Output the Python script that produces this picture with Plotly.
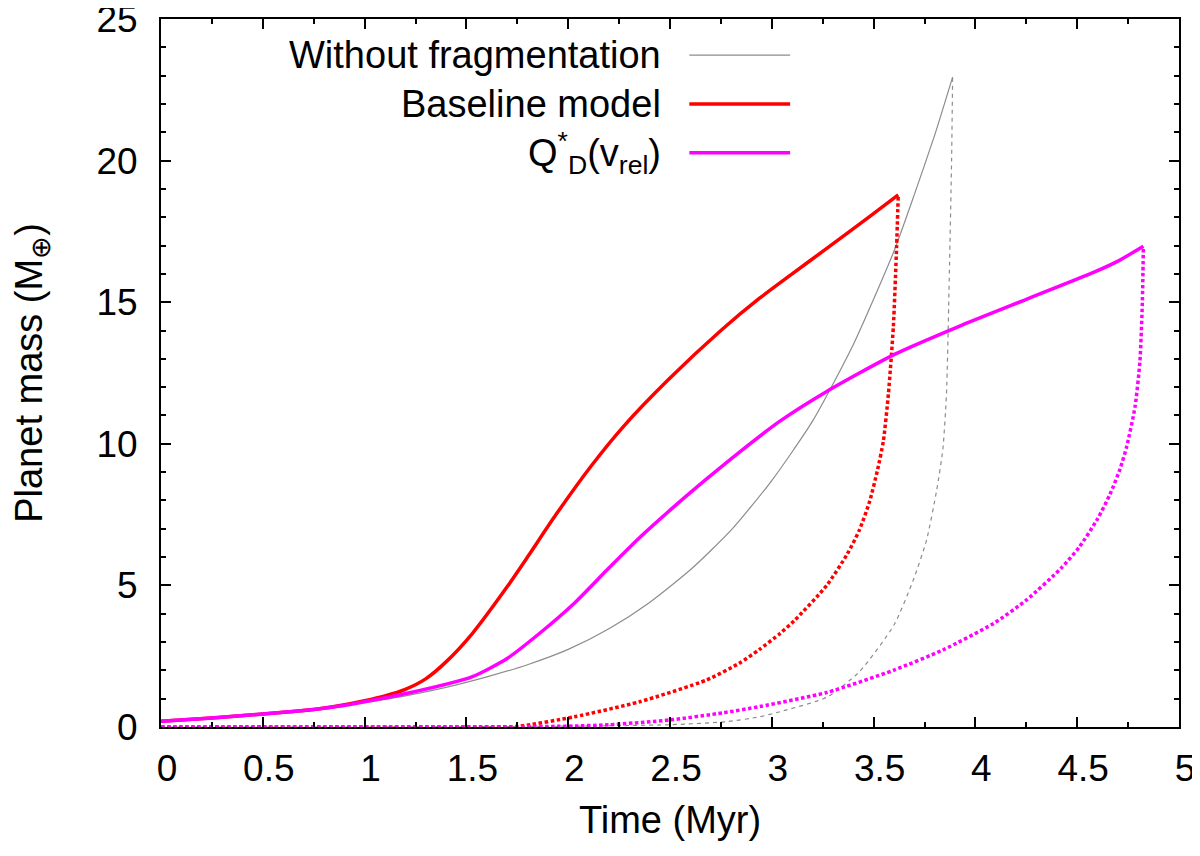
import plotly.graph_objects as go

# ---- data (Time in Myr, Planet mass in Earth masses) ----
nofrag_t = [0, 0.25, 0.5, 0.75, 1.0, 1.2, 1.4, 1.6, 1.8, 2.0, 2.2, 2.4, 2.6, 2.8, 3.0, 3.2, 3.4, 3.6, 3.7, 3.8, 3.888]
nofrag_m = [0.2, 0.32, 0.46, 0.63, 0.86, 1.10, 1.40, 1.77, 2.20, 2.74, 3.47, 4.40, 5.55, 6.95, 8.70, 10.8, 13.5, 16.8, 18.8, 20.9, 22.95]

nofrag_core_t = [0, 0.5, 1.0, 1.5, 2.0, 2.5, 2.78, 2.94, 3.04, 3.27, 3.43, 3.6, 3.695, 3.76, 3.81, 3.84, 3.858, 3.87, 3.883, 3.888]
nofrag_core_m = [0, 0, 0, 0.01, 0.03, 0.08, 0.19, 0.36, 0.54, 1.05, 1.95, 3.6, 5.19, 6.6, 8.37, 9.8, 11.78, 15.3, 20.0, 22.95]

base_t = [0, 0.25, 0.5, 0.75, 0.88, 1.0, 1.1, 1.2, 1.3, 1.4, 1.53, 1.70, 1.80, 1.94, 2.11, 2.27, 2.49, 2.75, 2.94, 3.1, 3.27, 3.48, 3.621]
base_m = [0.2, 0.32, 0.46, 0.62, 0.76, 0.93, 1.10, 1.33, 1.70, 2.30, 3.31, 4.95, 6.0, 7.5, 9.19, 10.6, 12.25, 14.0, 15.14, 16.0, 16.9, 18.02, 18.79]

base_core_t = [0, 0.5, 1.0, 1.5, 1.75, 2.03, 2.35, 2.68, 2.84, 2.94, 3.04, 3.11, 3.27, 3.37, 3.43, 3.48, 3.52, 3.548, 3.573, 3.597, 3.613, 3.621]
base_core_m = [0, 0, 0, 0, 0.02, 0.36, 0.89, 1.66, 2.25, 2.74, 3.3, 3.75, 5.0, 6.1, 6.95, 7.95, 9.1, 10.1, 11.78, 14.13, 16.96, 18.79]

qd_t = [0, 0.25, 0.5, 0.75, 0.88, 1.21, 1.53, 1.70, 1.86, 2.03, 2.19, 2.35, 2.52, 2.68, 2.84, 3.04, 3.27, 3.6, 3.92, 4.25, 4.58, 4.7, 4.825]
qd_m = [0.2, 0.32, 0.46, 0.62, 0.74, 1.19, 1.78, 2.42, 3.31, 4.37, 5.54, 6.68, 7.78, 8.76, 9.7, 10.8, 11.85, 13.15, 14.15, 15.1, 16.05, 16.45, 16.98]

qd_core_t = [0, 0.5, 1.0, 1.5, 2.0, 2.2, 2.5, 2.76, 2.94, 3.27, 3.6, 3.84, 4.09, 4.25, 4.42, 4.51, 4.6, 4.66, 4.71, 4.743, 4.784, 4.808, 4.82, 4.825]
qd_core_m = [0, 0, 0, 0, 0.03, 0.08, 0.25, 0.5, 0.72, 1.22, 2.01, 2.72, 3.66, 4.48, 5.6, 6.35, 7.35, 8.2, 9.1, 9.9, 11.3, 12.9, 15.0, 16.98]

legend_labels = ["Without fragmentation", "Baseline model", "Q<sup>*</sup><sub>D</sub>(v<sub>rel</sub>)"]
x_ticks = [0, 0.5, 1, 1.5, 2, 2.5, 3, 3.5, 4, 4.5, 5]
x_tick_text = ["0", "0.5", "1", "1.5", "2", "2.5", "3", "3.5", "4", "4.5", "5"]
y_ticks = [0, 5, 10, 15, 20, 25]

GRAY = "#8c8c8c"
RED = "#ff0000"
MAG = "#ff00ff"
FONT = "Liberation Sans"

fig = go.Figure()

def add(t, m, color, width, dash, smooth=0.6):
    fig.add_trace(go.Scatter(x=t, y=m, mode="lines", showlegend=False, hoverinfo="skip",
                             line=dict(color=color, width=width, dash=dash,
                                       shape="spline", smoothing=smooth)))

add(nofrag_core_t, nofrag_core_m, GRAY, 1.2, "4px,4px")
add(nofrag_t, nofrag_m, GRAY, 1.2, "solid")
add(base_core_t, base_core_m, RED, 3.5, "3.5px,2.5px")
add(qd_core_t, qd_core_m, MAG, 3.5, "3.5px,2.5px")
add(base_t, base_m, RED, 3.5, "solid")
add(qd_t, qd_m, MAG, 3.5, "solid")

# legend (text right-aligned with line sample to its right, as in the original)
leg_colors = [GRAY, RED, MAG]
leg_widths = [1.2, 3.5, 3.5]
leg_y = [0.949, 0.880, 0.811]
for lab, col, w, yy in zip(legend_labels, leg_colors, leg_widths, leg_y):
    fig.add_annotation(xref="paper", yref="paper", x=0.493, y=yy, text=lab,
                       showarrow=False, xanchor="right", yanchor="middle",
                       font=dict(family=FONT, size=38, color="black"))
    fig.add_shape(type="line", xref="paper", yref="paper", x0=0.519, x1=0.618,
                  y0=yy, y1=yy, line=dict(color=col, width=w))

axis_common = dict(
    showline=True, linecolor="black", linewidth=2, mirror="ticks",
    ticks="inside", ticklen=10, tickwidth=2, tickcolor="black",
    showgrid=False, zeroline=False, automargin=False,
    ticklabeloverflow="allow",
    tickfont=dict(family=FONT, size=37, color="black"),
)

fig.update_xaxes(range=[0, 5], tickvals=x_ticks, ticktext=x_tick_text,
                 minor=dict(dtick=0.25, ticks="inside", ticklen=5, tickwidth=2, tickcolor="black"),
                 ticklabelstandoff=8, ticklabelshift=6,
                 title=dict(text="Time (Myr)", font=dict(family=FONT, size=38, color="black"), standoff=18),
                 **axis_common)
fig.update_yaxes(range=[0, 25], tickvals=y_ticks,
                 minor=dict(dtick=1, ticks="inside", ticklen=5, tickwidth=2, tickcolor="black"),
                 ticklabelstandoff=14,
                 title=dict(text="Planet mass (M<sub>⊕</sub>)", font=dict(family=FONT, size=38, color="black"), standoff=80),
                 **axis_common)

# the page adds an 8px body margin, so margins are offset by 8px to land the
# plot area at the reference position on screen
fig.update_layout(width=1200, height=856, plot_bgcolor="white", paper_bgcolor="white",
                  margin=dict(l=153, r=29, t=11, b=137), showlegend=False)

fig.write_html("out.html")
